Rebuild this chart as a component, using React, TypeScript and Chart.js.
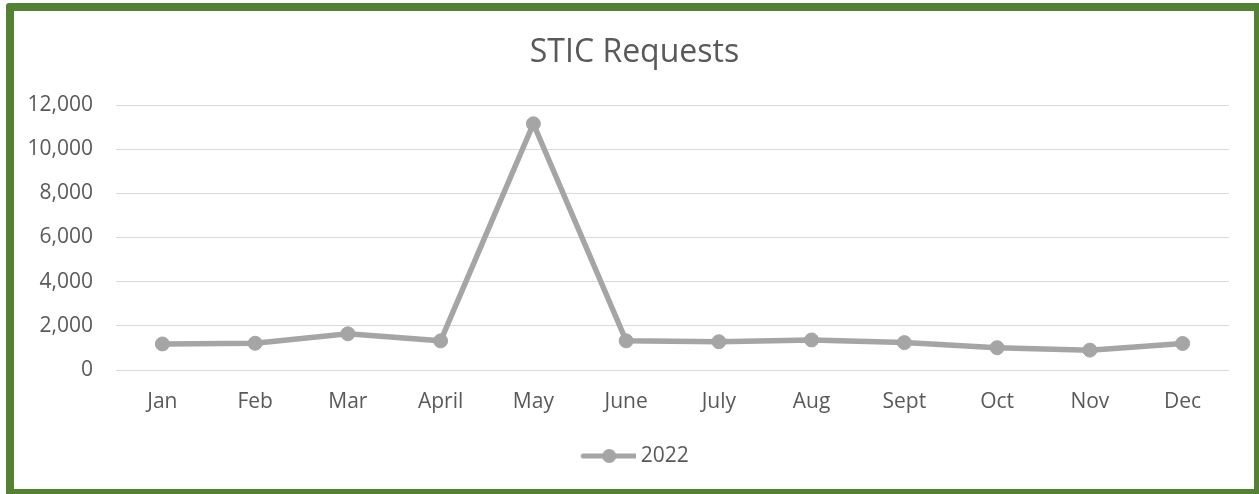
import React, { useEffect, useRef } from "react";
import { Chart, registerables } from "chart.js";

Chart.register(...registerables);

const categories = ["Jan", "Feb", "Mar", "April", "May", "June", "July", "Aug", "Sept", "Oct", "Nov", "Dec"];
const seriesLabel = "2022";
const requests2022 = [1180, 1210, 1640, 1320, 11150, 1320, 1280, 1360, 1240, 1010, 900, 1200];
const yTicks = [0, 2000, 4000, 6000, 8000, 10000, 12000];
const titleText = "STIC Requests";

const FONT = "'Open Sans', sans-serif";
const TEXT = "#595959";
const LINE = "#A5A5A5";
const GRID = "#D9D9D9";
const FRAME = "#548235";

function makeLegendIcon(): HTMLCanvasElement {
  const c = document.createElement("canvas");
  c.width = 62;
  c.height = 16;
  const ctx = c.getContext("2d")!;
  ctx.strokeStyle = LINE;
  ctx.lineWidth = 5;
  ctx.lineCap = "round";
  ctx.beginPath();
  ctx.moveTo(9, 8);
  ctx.lineTo(61, 8);
  ctx.stroke();
  ctx.fillStyle = LINE;
  ctx.beginPath();
  ctx.arc(35, 8, 7, 0, Math.PI * 2);
  ctx.fill();
  return c;
}

export default function App() {
  const ref = useRef<HTMLCanvasElement | null>(null);

  useEffect(() => {
    if (!ref.current) return;
    const icon = makeLegendIcon();
    const chart = new Chart(ref.current, {
      type: "line",
      data: {
        labels: categories,
        datasets: [
          {
            label: seriesLabel,
            data: requests2022,
            borderColor: LINE,
            backgroundColor: LINE,
            borderWidth: 5.5,
            pointRadius: 7,
            pointBorderWidth: 1,
            pointBackgroundColor: LINE,
            pointBorderColor: LINE,
            tension: 0,
            pointStyle: "circle",
          },
        ],
      },
      options: {
        animation: false,
        responsive: false,
        devicePixelRatio: 1,
        layout: { padding: { left: 40, right: 30, top: 0, bottom: 17.5 } },
        plugins: {
          title: {
            display: true,
            text: titleText,
            color: TEXT,
            font: { family: FONT, size: 32, weight: "normal" },
            padding: { top: 34, bottom: 32.6 },
          },
          legend: {
            display: true,
            position: "bottom",
            labels: {
              color: TEXT,
              font: { family: FONT, size: 21 },
              usePointStyle: true,
              pointStyleWidth: 50,
              padding: 10,
              generateLabels: () => [
                {
                  text: seriesLabel,
                  pointStyle: icon as any,
                  fillStyle: LINE,
                  strokeStyle: LINE,
                  lineWidth: 0,
                  hidden: false,
                  datasetIndex: 0,
                  fontColor: TEXT,
                } as any,
              ],
            },
          },
          tooltip: { enabled: false },
        },
        scales: {
          x: {
            type: "category",
            offset: true,
            grid: { display: false, drawTicks: false },
            border: { display: false },
            ticks: {
              color: TEXT,
              font: { family: FONT, size: 21 },
              padding: 19,
              maxRotation: 0,
              autoSkip: false,
            },
            afterFit: (scale: any) => {
              scale.height = 65.5;
            },
          },
          y: {
            min: 0,
            max: 12000,
            afterBuildTicks: (scale: any) => {
              scale.ticks = yTicks.map((v) => ({ value: v }));
            },
            grid: { color: GRID, lineWidth: 1, drawTicks: false },
            border: { display: false },
            ticks: {
              color: TEXT,
              font: { family: FONT, size: 21 },
              padding: 23,
              callback: (v: any) => Number(v).toLocaleString("en-US"),
            },
            afterFit: (scale: any) => {
              scale.width = 76;
              // let tick labels extend into the layout padding instead of being clipped
              scale._computeLabelArea = () => undefined;
            },
          },
        },
      },
    });
    return () => chart.destroy();
  }, []);

  return (
    <div style={{ position: "fixed", left: 0, top: 0, width: 1259, height: 494, background: "#fff", overflow: "hidden" }}>
      <canvas ref={ref} width={1259} height={494} style={{ position: "absolute", left: 0, top: 0, width: 1259, height: 494 }} />
      <div
        style={{
          position: "absolute",
          left: 6,
          top: 3,
          width: 1256,
          height: 494,
          border: `8px solid ${FRAME}`,
          borderRadius: 3,
          boxSizing: "border-box",
          pointerEvents: "none",
        }}
      />
    </div>
  );
}
